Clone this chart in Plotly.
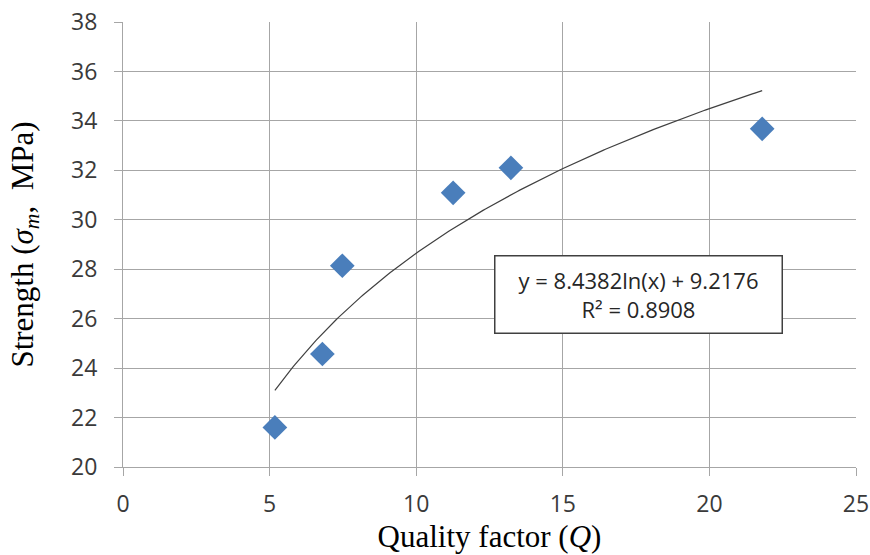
import numpy as np
import plotly.graph_objects as go

# Measured strength vs. quality factor
quality_factor = [5.18, 6.80, 7.48, 11.26, 13.23, 21.80]
strength = [21.6, 24.57, 28.14, 31.09, 32.10, 33.68]

# Logarithmic trendline: y = a ln(x) + b
fit_a = 8.4382
fit_b = 9.2176
fit_r2 = 0.8908

x_tick_vals = [0, 5, 10, 15, 20, 25]
y_tick_vals = [20, 22, 24, 26, 28, 30, 32, 34, 36, 38]

trend_x = np.linspace(min(quality_factor), max(quality_factor), 200)
trend_y = fit_a * np.log(trend_x) + fit_b

fig = go.Figure()
fig.add_trace(go.Scatter(
    x=trend_x, y=trend_y, mode="lines",
    line=dict(color="#404040", width=1.2),
    hoverinfo="skip", showlegend=False,
))
fig.add_trace(go.Scatter(
    x=quality_factor, y=strength, mode="markers",
    marker=dict(symbol="diamond", size=19, color="#4A7EBB"),
    showlegend=False,
))

tick_font = dict(family="Open Sans, Liberation Sans, sans-serif", size=23, color="#3a3a3a")
title_font = dict(family="Liberation Serif, Times New Roman, serif", size=31, color="#000000")

fig.update_xaxes(
    range=[0, 25], tickvals=x_tick_vals, showgrid=True, gridcolor="#a6a6a6", gridwidth=1,
    showline=True, linecolor="#a6a6a6", linewidth=1, ticks="outside", ticklen=8,
    tickcolor="#a6a6a6", tickfont=tick_font, zeroline=False, ticklabelstandoff=8,
    automargin="bottom",
    title=dict(text="Quality factor (<i>Q</i>)", font=title_font, standoff=4),
)
fig.update_yaxes(
    range=[20, 38], tickvals=y_tick_vals, showgrid=True, gridcolor="#a6a6a6", gridwidth=1,
    showline=True, linecolor="#a6a6a6", linewidth=1, ticks="outside", ticklen=8,
    tickcolor="#a6a6a6", tickfont=tick_font, zeroline=False, ticklabelstandoff=12,
    automargin="left",
    title=dict(text="Strength (<i>σ<sub>m</sub></i>,  MPa)", font=title_font, standoff=28),
)

fig.add_annotation(
    xref="paper", yref="paper", x=(494 - 123) / 733, y=1 - (255 - 22) / 445,
    xanchor="left", yanchor="top", showarrow=False,
    text=f"y = {fit_a}ln(x) + {fit_b}<br>R² = {fit_r2}",
    font=dict(family="Open Sans, Liberation Sans, sans-serif", size=22, color="#262626"),
    align="center", bgcolor="white", bordercolor="#404040", borderwidth=1.5,
    borderpad=4, width=278, height=68,
)

fig.update_layout(
    width=870, height=555,
    margin=dict(l=123, r=14, t=22, b=88),
    plot_bgcolor="white", paper_bgcolor="white",
)

fig.write_html("out.html")
